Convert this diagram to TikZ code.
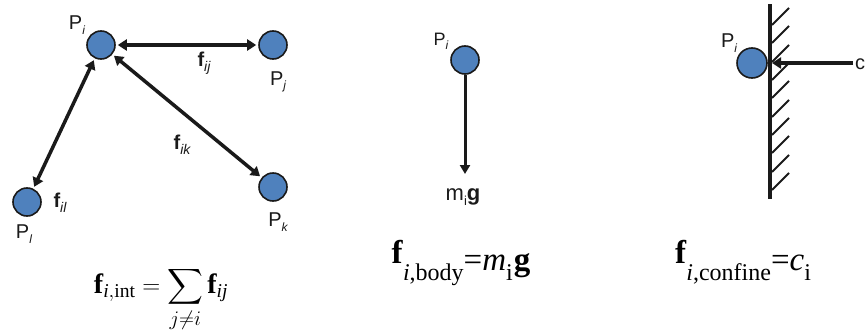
\documentclass[tikz,border=0pt]{standalone}
\usepackage{amsmath}
\usepackage{fontspec}
\setmainfont{Liberation Serif}
\setsansfont{Liberation Sans}
\usetikzlibrary{arrows.meta}
\definecolor{pblue}{HTML}{4F81BD}
\definecolor{ink}{HTML}{1A1A1A}
\newcommand\Psub[1]{P\raisebox{-0.22em}{\fontsize{12}{12}\selectfont\itshape #1}}
\newcommand\fsub[1]{\textbf{f}\raisebox{-0.25em}{\fontsize{14}{14}\selectfont\itshape #1}}
\newcommand\lowsub[1]{\raisebox{-17pt}{\fontsize{24}{24}\selectfont #1}}
\newcommand\midlevel[1]{\raisebox{-7pt}{#1}}
\begin{document}
\begin{tikzpicture}[x=1pt,y=-1pt,
  particle/.style={circle,draw=ink,fill=pblue,line width=1.6pt,minimum size=28pt,inner sep=0pt},
  lbl/.style={font=\sffamily\fontsize{20}{22}\selectfont,text=ink,inner sep=0pt},
  slbl/.style={font=\sffamily\fontsize{18}{20}\selectfont,text=ink,inner sep=0pt},
  flbl/.style={font=\sffamily\fontsize{20}{22}\selectfont,text=ink,inner sep=0pt},
  force/.style={line width=3.5pt,draw=ink,{Triangle[length=9pt,width=11pt]}-{Triangle[length=9pt,width=11pt]},shorten <=2pt,shorten >=2pt},
  oneway/.style={line width=3pt,draw=ink,-{Triangle[length=9pt,width=10pt]}},
  eq/.style={font=\fontsize{33}{38}\selectfont,inner sep=0pt,anchor=base},
  hatch/.style={line width=2pt,draw=ink}]
\useasboundingbox (0,0) rectangle (866,332);

% ---------- left: internal forces ----------
\node[particle] (pi) at (101,45) {};
\node[particle] (pj) at (273,45) {};
\node[particle] (pl) at (27,202) {};
\node[particle] (pk) at (273,187) {};
\node[lbl] (lpi) at (77,25) {\Psub{i}};
\node[lbl] (lpj) at (278,82) {\Psub{j}};
\node[lbl] (lpl) at (24,234) {\Psub{l}};
\node[lbl] (lpk) at (278,222) {\Psub{k}};
\draw[force] (pi) -- (pj);
\draw[force] (pi) -- (pl);
\draw[force] (pi) -- (pk);
\node[flbl] (fij) at (204,63) {\fsub{ij}};
\node[flbl] (fik) at (182,145) {\fsub{ik}};
\node[flbl] (fil) at (60,203) {\fsub{il}};
\node[eq,font=\fontsize{28}{32}\selectfont] (eqint) at (161,293) {$\displaystyle \textbf{f}_{\textit{i},\text{int}} = \sum_{j\neq i}\textbf{f}_{\textit{ij}}$};

% ---------- middle: body force ----------
\node[particle] (pm) at (465,60) {};
\node[slbl] (lpm) at (441,41) {\Psub{i}};
\coordinate (mtip) at (465,174);
\draw[oneway] (pm) -- (mtip);
\node[flbl,font=\sffamily\fontsize{22}{24}\selectfont] (mg) at (463,197) {m\raisebox{-0.25em}{\fontsize{13}{13}\selectfont i}\textbf{g}};
\node[eq] (eqbody) at (461,263) {\textbf{f}\lowsub{\textit{i},body}\midlevel{=\textit{m}}\lowsub{i}\kern1pt\midlevel{\textbf{g}}};

% ---------- right: confinement ----------
\node[particle,minimum size=30pt] (pc) at (752,63) {};
\node[lbl] (lpc) at (729,43) {\Psub{i}};
\coordinate (wtop) at (770,4);
\coordinate (wbot) at (770,199);
\foreach \y in {25,43,62,80,98,117,135,153,172,190}{
  \draw[hatch] (772,\y) -- (789,\y-17);
}
\draw[line width=4.5pt,draw=ink] (wtop) -- (wbot);
\coordinate (cstart) at (853,63);
\coordinate (wallhit) at (772,63);
\draw[line width=3.5pt,draw=ink,-{Triangle[length=9pt,width=11pt]}] (cstart) -- (wallhit);
\node[lbl,anchor=west,font=\sffamily\fontsize{20}{22}\selectfont] (cl) at (855,64) {c};
\node[eq] (eqconf) at (743,263) {\textbf{f}\lowsub{\textit{i},confine}\midlevel{=\textit{c}}\lowsub{i}};
\end{tikzpicture}
\end{document}
